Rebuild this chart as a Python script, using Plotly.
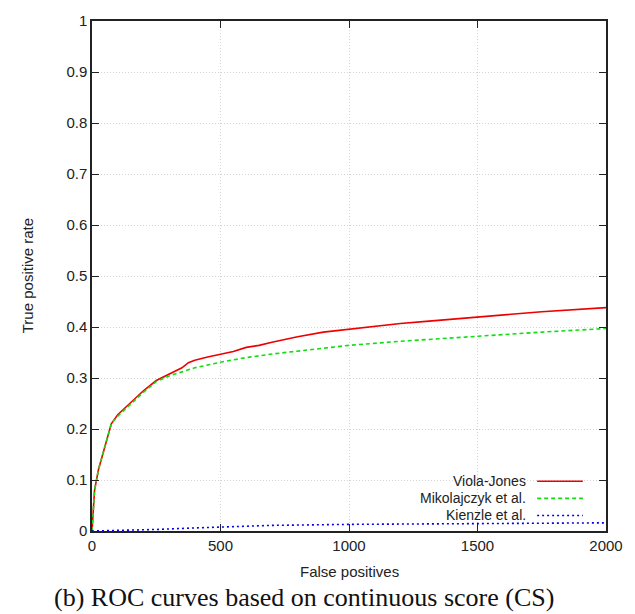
import plotly.graph_objects as go

vj_x = [0, 5, 10, 25, 50, 75, 100, 125, 150, 200, 250, 300, 350, 375, 400, 450, 500, 550, 600, 650, 700, 800, 900, 1000, 1100, 1200, 1300, 1500, 1750, 2000]
vj_y = [0.0, 0.05, 0.08, 0.12, 0.165, 0.21, 0.228, 0.24, 0.252, 0.275, 0.295, 0.307, 0.32, 0.33, 0.335, 0.341, 0.347, 0.352, 0.36, 0.364, 0.37, 0.381, 0.39, 0.396, 0.402, 0.407, 0.411, 0.42, 0.43, 0.438]

mk_x = [0, 5, 10, 25, 50, 75, 100, 125, 150, 200, 250, 300, 350, 400, 500, 600, 700, 800, 900, 1000, 1200, 1500, 1750, 2000]
mk_y = [0.0, 0.05, 0.08, 0.12, 0.165, 0.21, 0.225, 0.237, 0.25, 0.272, 0.293, 0.304, 0.312, 0.32, 0.331, 0.34, 0.347, 0.353, 0.358, 0.364, 0.372, 0.382, 0.39, 0.397]

kz_x = [0, 100, 250, 400, 500, 600, 700, 1000, 1500, 2000]
kz_y = [0.0, 0.001, 0.003, 0.006, 0.008, 0.01, 0.011, 0.013, 0.015, 0.016]

series_names = ["Viola-Jones", "Mikolajczyk et al.", "Kienzle et al."]
series_colors = ["#ee0000", "#11dd11", "#0000ee"]
series_dash = ["solid", "4px,3px", "2px,3px"]

x_ticks = [0, 500, 1000, 1500, 2000]
y_ticks = [0, 0.1, 0.2, 0.3, 0.4, 0.5, 0.6, 0.7, 0.8, 0.9, 1]
y_tick_labels = ["0", "0.1", "0.2", "0.3", "0.4", "0.5", "0.6", "0.7", "0.8", "0.9", "1"]

SANS = "Liberation Sans, Arial"
fig = go.Figure()
for xs, ys, name, col, dash in zip([vj_x, mk_x, kz_x], [vj_y, mk_y, kz_y], series_names, series_colors, series_dash):
    fig.add_trace(go.Scatter(x=xs, y=ys, mode="lines", name=name,
                             line=dict(color=col, width=1.6, dash=dash), showlegend=False))

axis_common = dict(showline=True, linecolor="#222", linewidth=1.5, mirror="allticks",
                   ticks="inside", ticklen=7, tickcolor="#222", showgrid=True,
                   gridcolor="#d4d4d4", griddash="1px,2px", gridwidth=1, zeroline=False,
                   tickfont=dict(family=SANS, size=15, color="#222"))

fig.update_xaxes(range=[0, 2000], tickvals=x_ticks, **axis_common)
fig.update_yaxes(range=[0, 1], tickvals=y_ticks, ticktext=y_tick_labels, **axis_common)

# custom gnuplot-style legend (text left of sample)
leg_y = [0.0975, 0.064, 0.0305]
for name, col, dash, yy in zip(series_names, series_colors, series_dash, leg_y):
    fig.add_annotation(x=0.846, y=yy, xref="paper", yref="paper", text=name, showarrow=False,
                       xanchor="right", yanchor="middle", borderpad=0,
                       font=dict(family=SANS, size=14, color="#222"))
    fig.add_shape(type="line", xref="paper", yref="paper", x0=0.866, x1=0.955, y0=yy, y1=yy,
                  line=dict(color=col, width=1.6, dash=dash))

fig.add_annotation(x=0.5, y=-0.08, xref="paper", yref="paper", text="False positives",
                   showarrow=False, xanchor="center", yanchor="middle",
                   font=dict(family=SANS, size=15, color="#222"))
fig.add_annotation(x=-0.126, y=0.5, xref="paper", yref="paper", text="True positive rate",
                   showarrow=False, textangle=-90, xanchor="center", yanchor="middle",
                   font=dict(family=SANS, size=15, color="#222"))
fig.add_annotation(x=0.413, y=-0.13, xref="paper", yref="paper",
                   text="(b) ROC curves based on continuous score (CS)",
                   showarrow=False, xanchor="center", yanchor="middle",
                   font=dict(family="Liberation Serif, Times New Roman", size=26, color="#111"))

fig.update_layout(width=635, height=614, margin=dict(l=92, r=29, t=18, b=83),
                  plot_bgcolor="white", paper_bgcolor="white")

fig.write_html("out.html")
